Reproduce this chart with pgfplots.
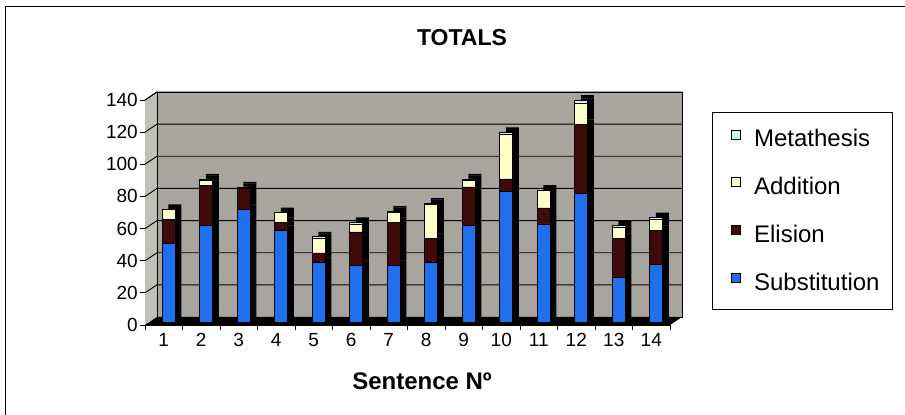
\documentclass[border=0pt]{standalone}
\usepackage{pgfplots}
\usepackage{pgfplotstable}
\pgfplotsset{compat=1.18}
\usepackage{fontspec}
\setmainfont{Liberation Sans}

\definecolor{wallgray}{RGB}{167,165,157}
\definecolor{sidegray}{RGB}{192,191,184}
\definecolor{subblue}{RGB}{31,111,239}
\definecolor{elimaroon}{RGB}{62,10,10}
\definecolor{addyellow}{RGB}{255,255,204}
\definecolor{metcyan}{RGB}{204,242,255}

% errors per sentence, by type
\pgfplotstableread{
sent sub eli add met
1  49 15  6 0
2  60 25  3 1
3  70 13  1 0
4  57  5  6 0
5  37  6  9 1
6  35 21  5 1
7  35 27  6 1
8  37 15 21 1
9  60 24  4 1
10 81  8 28 1
11 61 10 11 0
12 80 43 13 2
13 28 24  7 1
14 36 21  7 1
}\errtable

\pgfplotsset{
  box/.style={
    scale only axis, width=525pt, height=225pt,
    xmin=0.5, xmax=14.5, ymin=0, ymax=140,
    clip=false,
  },
}

\begin{document}
\begin{tikzpicture}
\useasboundingbox (0pt,0pt) rectangle (905pt,415pt);
\draw[line width=1pt] (5pt,0pt) -- (5pt,408pt) -- (905pt,408pt);
\node[font=\bfseries\fontsize{23}{27}\selectfont, anchor=base] at (462pt,369pt) {TOTALS};
\node[font=\bfseries\fontsize{24}{28}\selectfont, anchor=base] at (422pt,25pt) {Sentence Nº};

% walls, floor, grid and ticks
\begin{axis}[box, at={(145pt,90pt)}, anchor=south west,
  axis x line*=bottom, axis y line*=left,
  axis line style={black, line width=0.8pt},
  tick align=outside, major tick length=5pt,
  tick style={black, line width=0.8pt},
  ytick={0,20,...,140},
  xtick={0.5,1.5,...,14.5},
  x tick label as interval,
  xticklabels={1,2,3,4,5,6,7,8,9,10,11,12,13,14},
  /pgf/number format/assume math mode=true,
  tick label style={font=\fontsize{19}{22}\selectfont},
  yticklabel style={inner sep=2pt},
  xticklabel style={inner sep=3pt},
]
\fill[sidegray] (axis cs:0.5,0) -- ([shift={(12pt,8pt)}]axis cs:0.5,0)
  -- ([shift={(12pt,8pt)}]axis cs:0.5,140) -- (axis cs:0.5,140) -- cycle;
\fill[wallgray] ([shift={(12pt,8pt)}]axis cs:0.5,0) rectangle ([shift={(12pt,8pt)}]axis cs:14.5,140);
\pgfplotsinvokeforeach{20,40,...,140}{
  \draw[black, line width=0.9pt] (axis cs:0.5,#1) -- ([shift={(12pt,8pt)}]axis cs:0.5,#1)
    -- ([shift={(12pt,8pt)}]axis cs:14.5,#1);
}
\draw[black, line width=0.8pt] ([shift={(12pt,8pt)}]axis cs:0.5,0) rectangle ([shift={(12pt,8pt)}]axis cs:14.5,140);
\draw[black, line width=0.8pt] (axis cs:0.5,140) -- ([shift={(12pt,8pt)}]axis cs:0.5,140);
\fill[black] (axis cs:0.5,0) -- (axis cs:14.5,0) -- ([shift={(12pt,8pt)}]axis cs:14.5,0)
  -- ([shift={(12pt,8pt)}]axis cs:0.5,0) -- cycle;
\end{axis}

% dark sides and tops of the columns
\begin{axis}[box, hide axis, at={(156pt,98pt)}, anchor=south west,
  ybar stacked, bar width=13pt]
\addplot[fill=black, draw=none] table[x=sent, y=sub] {\errtable};
\addplot[fill=black, draw=none] table[x=sent, y=eli] {\errtable};
\addplot[fill=black, draw=none] table[x=sent, y=add] {\errtable};
\addplot[fill=black, draw=none] table[x=sent, y=met] {\errtable};
\end{axis}

% stacked columns
\begin{axis}[box, hide axis, at={(150pt,93pt)}, anchor=south west,
  ybar stacked, bar width=13pt,
  reverse legend,
  legend cell align=left,
  legend image code/.code={
    \path (0pt,0pt) (17pt,9pt);
    \draw[#1, draw=black, line width=0.6pt] (8pt,0pt) rectangle (17pt,9pt);
  },
  legend style={at={(1.0705,0.9333)}, anchor=north west,
    draw=black, line width=0.8pt, fill=white,
    font=\fontsize{24}{28}\selectfont,
    inner xsep=11pt, inner ysep=15pt,
    nodes={inner sep=2pt},
    row sep=25pt, column sep=11pt},
]
\addplot[fill=subblue, draw=black, line width=0.7pt] table[x=sent, y=sub] {\errtable};
\addplot[fill=elimaroon, draw=black, line width=0.7pt] table[x=sent, y=eli] {\errtable};
\addplot[fill=addyellow, draw=black, line width=0.7pt] table[x=sent, y=add] {\errtable};
\addplot[fill=metcyan, draw=black, line width=0.7pt] table[x=sent, y=met] {\errtable};
\legend{Substitution, Elision, Addition, Metathesis}
\end{axis}
\end{tikzpicture}
\end{document}
